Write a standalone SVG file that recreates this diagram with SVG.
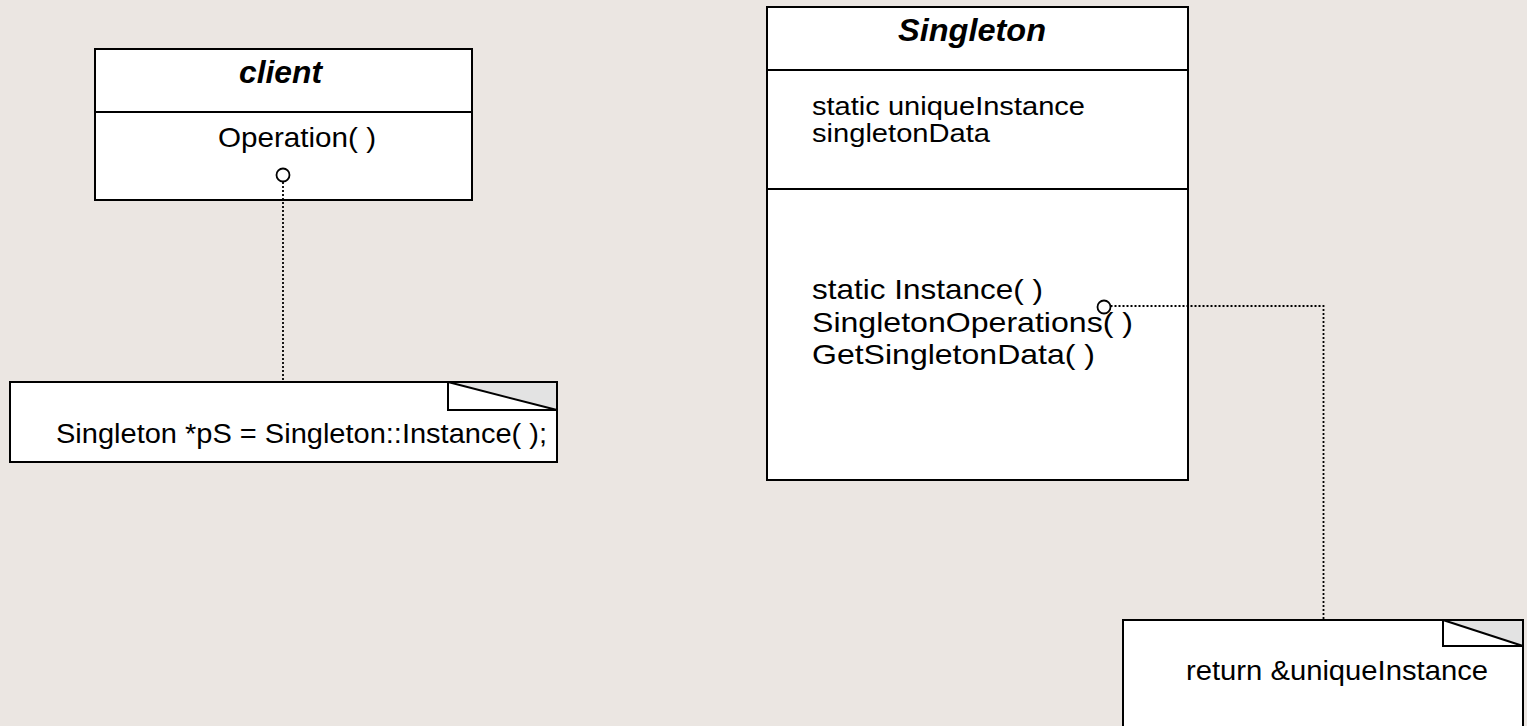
<svg xmlns="http://www.w3.org/2000/svg" width="1527" height="726" viewBox="0 0 1527 726">
<style>
.box{fill:#fff;stroke:#000;stroke-width:2}
.div{stroke:#000;stroke-width:2}
.title{font-family:"Liberation Sans",Arial,sans-serif;font-size:31px;font-weight:bold;font-style:italic;fill:#000}
.t29{font-family:"Liberation Sans",Arial,sans-serif;font-size:27.5px;fill:#000}
.ta{font-family:"Liberation Sans",Arial,sans-serif;font-size:25px;fill:#000}
.t32{font-family:"Liberation Sans",Arial,sans-serif;font-size:28.5px;fill:#000}
.fold{fill:none;stroke:#000;stroke-width:2}
.foldg{fill:#e3e3e3;stroke:none}
.dot{fill:none;stroke:#000;stroke-width:1.8;stroke-dasharray:2 2}
.end{fill:#fff;stroke:#000;stroke-width:1.8}
</style>
<rect x="0" y="0" width="1527" height="726" fill="#ebe6e2"/>
<g id="client">
<rect class="box" x="95" y="49" width="377" height="151"/>
<line class="div" x1="95" y1="112" x2="472" y2="112"/>
<text class="title" x="239" y="83" textLength="83" lengthAdjust="spacingAndGlyphs">client</text>
<text class="t29" x="218" y="147" textLength="158" lengthAdjust="spacingAndGlyphs">Operation( )</text>
</g>
<g id="singleton">
<rect class="box" x="767" y="7" width="421" height="473"/>
<line class="div" x1="767" y1="70" x2="1188" y2="70"/>
<line class="div" x1="767" y1="189" x2="1188" y2="189"/>
<text class="title" x="898" y="41" textLength="148" lengthAdjust="spacingAndGlyphs">Singleton</text>
<text class="ta" x="812" y="115" textLength="273" lengthAdjust="spacingAndGlyphs">static uniqueInstance</text>
<text class="ta" x="812" y="142" textLength="178" lengthAdjust="spacingAndGlyphs">singletonData</text>
<text class="t32" x="812" y="299" textLength="231" lengthAdjust="spacingAndGlyphs">static Instance( )</text>
<text class="t32" x="812" y="332" textLength="321" lengthAdjust="spacingAndGlyphs">SingletonOperations( )</text>
<text class="t32" x="812" y="364" textLength="283" lengthAdjust="spacingAndGlyphs">GetSingletonData( )</text>
</g>
<g id="note1">
<rect class="box" x="10" y="382" width="547" height="80"/>
<polygon class="foldg" points="448,382 557,382 557,410"/>
<rect class="fold" x="448" y="382" width="109" height="28"/>
<line class="div" x1="448" y1="382" x2="557" y2="410"/>
<text class="t29" x="56" y="443" textLength="491" lengthAdjust="spacingAndGlyphs">Singleton *pS = Singleton::Instance( );</text>
</g>
<g id="note2">
<rect class="box" x="1123" y="620" width="400" height="120"/>
<polygon class="foldg" points="1443,620 1523,620 1523,646"/>
<rect class="fold" x="1443" y="620" width="80" height="26"/>
<line class="div" x1="1443" y1="620" x2="1523" y2="646"/>
<text class="t29" x="1186" y="680" textLength="302" lengthAdjust="spacingAndGlyphs">return &amp;uniqueInstance</text>
</g>
<g id="connectors">
<path class="dot" d="M283,182 V382"/>
<circle class="end" cx="283" cy="175" r="6.5"/>
<path class="dot" d="M1110.5,306 H1323.5 V620"/>
<circle class="end" cx="1104" cy="307" r="6.5"/>
</g>
</svg>
